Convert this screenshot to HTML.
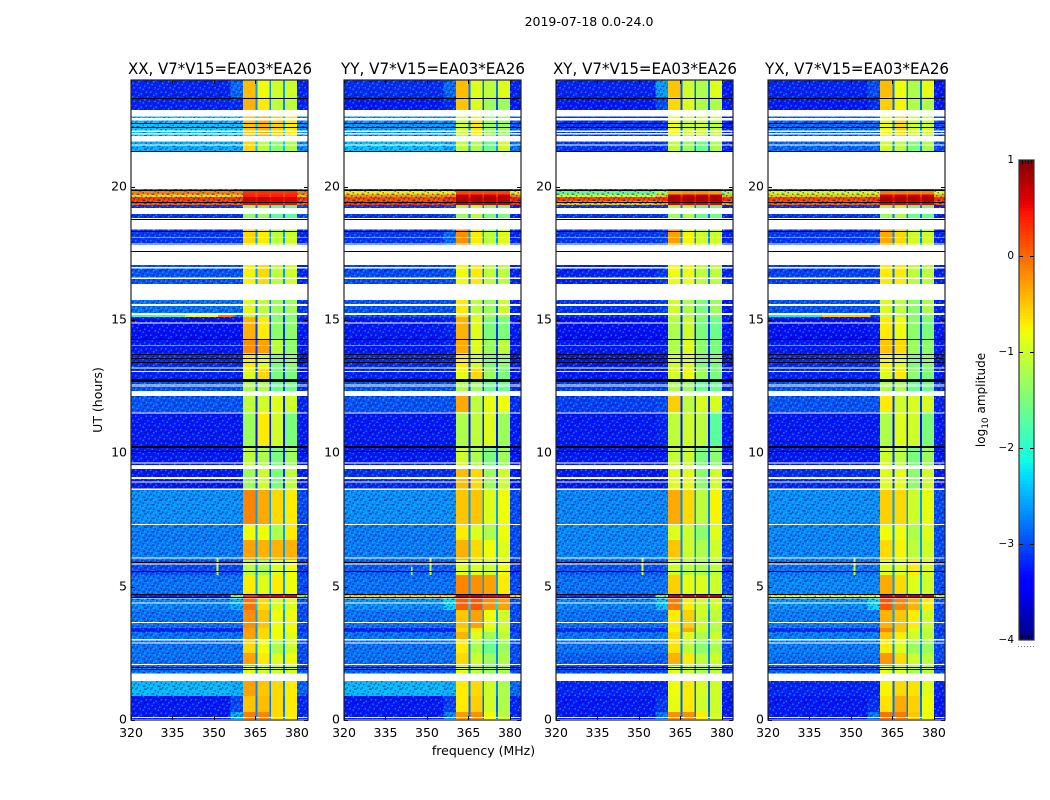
<!DOCTYPE html>
<html>
<head>
<meta charset="utf-8">
<title>2019-07-18 dynamic spectra</title>
<style>
html,body{margin:0;padding:0;background:#fff;width:1050px;height:800px;overflow:hidden}
svg{display:block}
text{font-family:"DejaVu Sans","Liberation Sans",sans-serif;fill:#000}
</style>
</head>
<body>
<svg id="figure" xmlns="http://www.w3.org/2000/svg" width="1050" height="800" viewBox="0 0 1050 800">
<defs>
<pattern id="speckle" patternUnits="userSpaceOnUse" width="15" height="13.5">
<g fill="#000078" opacity=".5">
<rect x="0" y="0" width="1.5" height="1.5"/><rect x="4.5" y="1.5" width="1.5" height="1.5"/><rect x="9" y="0" width="3" height="1.5"/>
<rect x="1.5" y="4.5" width="3" height="1.5"/><rect x="7.5" y="3" width="1.5" height="1.5"/><rect x="12" y="4.5" width="1.5" height="1.5"/>
<rect x="6" y="6" width="1.5" height="1.5"/><rect x="0" y="7.5" width="1.5" height="1.5"/><rect x="10.5" y="7.5" width="1.5" height="1.5"/>
<rect x="3" y="9" width="1.5" height="1.5"/><rect x="13.5" y="9" width="1.5" height="1.5"/><rect x="7.5" y="10.5" width="3" height="1.5"/>
<rect x="1.5" y="12" width="1.5" height="1.5"/><rect x="12" y="12" width="1.5" height="1.5"/>
</g>
<g fill="#40c8ff" opacity=".48">
<rect x="3" y="0" width="1.5" height="1.5"/><rect x="12" y="1.5" width="1.5" height="1.5"/><rect x="1.5" y="3" width="1.5" height="1.5"/>
<rect x="9" y="4.5" width="1.5" height="1.5"/><rect x="4.5" y="6" width="1.5" height="1.5"/><rect x="13.5" y="6" width="1.5" height="1.5"/>
<rect x="7.5" y="7.5" width="1.5" height="1.5"/><rect x="0" y="10.5" width="1.5" height="1.5"/><rect x="10.5" y="10.5" width="1.5" height="1.5"/>
<rect x="5.5" y="12" width="1.5" height="1.5"/>
</g>
</pattern>
</defs>
<text x="589" y="26" font-size="12.5" text-anchor="middle">2019-07-18 0.0-24.0</text>
<text transform="translate(102,400) rotate(-90)" font-size="12.5" text-anchor="middle">UT (hours)</text>
<text x="483.5" y="755" font-size="12.5" text-anchor="middle">frequency (MHz)</text>
<text transform="translate(985,400) rotate(-90)" font-size="12" text-anchor="middle">log<tspan font-size="9" dy="3">10</tspan><tspan dy="-3"> amplitude</tspan></text>
<g id="panels"></g>
<g id="colorbar"></g>
</svg>
<script>
// ---- Chart data (log10 amplitude) ----
const panelTitles = ["XX, V7*V15=EA03*EA26", "YY, V7*V15=EA03*EA26", "XY, V7*V15=EA03*EA26", "YX, V7*V15=EA03*EA26"];
const frequencyEdges = [320, 356, 360.5, 365, 365.7, 370, 370.7, 375, 375.7, 380, 384];
const frequencyTicks = [320, 335, 350, 365, 380];
const utTicks = [0, 5, 10, 15, 20];
const colorbarTicks = [1, 0, -1, -2, -3, -4];
const utEdges = [24,23.36,22.88,21.9,19.91,19.86,19.71,19.61,19.44,19.31,18.83,18.41,17.06,16.31,15.75,15.19,15.12,14.29,13.76,13.2,12.71,12.15,11.55,10.28,9.41,8.63,7.31,6.75,6,5.44,4.73,4.61,4.13,3.45,3.3,3,2.51,2.03,1.46,0.9,0.3,0];
// each row: off-band, pre-band, band1, band2, band3, band4, upper edge, notch between bands
const xxValues = [
[-3.2,-2.85,-.45,-.8,-1,-1,-3.2,-2.6],
[-3.2,-3.15,-.4,-.7,-1.1,-1.1,-3.2,-2.7],
[-2.4,-2.4,-.5,-.4,-.55,-.7,-2.7,-2.4],
[-2.5,-2.5,-.6,-1.1,-1.4,-1.2,-2.7,-2.4],
[.3,.3,.5,.5,.5,.5,.3,.4],
[-.1,-.1,.3,.3,.3,.3,-.1,.2],
[-.6,-.5,.4,.4,.4,.4,-.5,.1],
[.25,.3,.7,.7,.6,.6,.3,.5],
[.1,.1,.5,.5,.5,.5,.1,.3],
[-3.1,-3.1,-1.4,-1.3,-1.7,-1.7,-3,-2.8],
[-3.25,-3.25,-.6,-.8,-1,-.9,-3.25,-2.8],
[-3.1,-3.1,-.6,-.7,-1.1,-1,-3.2,-2.6],
[-2.95,-2.95,-.75,-.6,-1.1,-1,-3.2,-2.6],
[-3.1,-3.1,-.3,-.5,-.8,-.9,-3.2,-2.6],
[-2.8,-2.8,-.9,-1.1,-1.3,-1.3,-3.1,-2.8],
[-2.9,-2.8,-1,-1.2,-1.5,-1.5,-3,-2.9],
[-3.3,-3.3,-.4,-.7,-1.4,-1.4,-3.25,-3.1],
[-3.25,-3.25,-.2,-.3,-1.1,-1.4,-3.25,-3.1],
[-3.15,-3.15,-.7,-.9,-1.5,-1.4,-3.25,-3.1],
[-3.2,-3.2,-.9,-.6,-1.5,-1.5,-3.25,-3.1],
[-2.95,-2.95,-1.2,-1.2,-1.6,-1.6,-3.15,-3],
[-2.95,-2.95,-1.1,-1,-.9,-1,-3.2,-3.2],
[-3.25,-3.25,-1.3,-.7,-1,-1.5,-3.25,-3.3],
[-3.25,-3.25,-1.1,-1.2,-1.5,-1.3,-3.25,-3.2],
[-3.25,-3.25,-1.3,-1,-1.5,-1.1,-3.25,-3.1],
[-2.65,-2.65,-.15,-.35,-.6,-.7,-3,-2.6],
[-2.75,-2.75,-.8,-.8,-1.2,-.7,-3,-2.6],
[-2.75,-2.75,-.3,-.4,-.4,-.4,-3,-2.6],
[-3,-3,-1.1,-1.2,-.9,-.8,-3.1,-2.7],
[-2.8,-2.8,-.7,-.9,-.7,-.8,-3,-2.6],
[-3.2,-1.5,.3,.6,.6,.6,-1.6,.3],
[-2.7,-2.5,-.05,-.6,-.9,-.9,-3,-2.4],
[-2.8,-2.8,-.2,-.5,-.8,-.8,-3,-2.6],
[-3.2,-3.2,-.3,-.6,-.8,-.8,-3.1,-2.7],
[-2.8,-2.8,-.3,-.6,-.8,-.9,-3,-2.6],
[-2.8,-2.8,-.6,-.8,-1.2,-1,-3,-2.6],
[-2.8,-2.8,-.3,-.7,-.9,-.8,-3,-2.7],
[-2.8,-2.8,-.9,-1,-1,-1,-2.9,-2.8],
[-2.45,-2.5,-.3,-.5,-.6,-.7,-2.9,-2.7],
[-3.25,-3,-.5,-.45,-.6,-.7,-3.2,-2.8],
[-3.25,-2.5,-.1,-.15,-.6,-.7,-3.2,-2.7]
];
const yyValues = [
[-3.15,-2.85,-.45,-.9,-1.1,-.9,-3.2,-2.8],
[-3.25,-3.15,-.5,-.9,-1.3,-1.3,-3.25,-3],
[-2.6,-2.6,-1,-.7,-1.3,-1.3,-2.9,-2.7],
[-2.4,-2.5,-1.1,-1.2,-1.6,-1,-2.8,-2.6],
[.7,.7,.8,.8,.8,.8,.7,.7],
[-.7,-.7,.2,.2,.2,.2,-.7,.1],
[-.2,-.1,.7,.7,.7,.7,-.1,.3],
[.15,.35,.8,.8,.8,.8,.4,.5],
[.3,.3,.7,.7,.7,.7,.3,.5],
[-3.1,-3,-1.3,-1.1,-1.5,-1.5,-3.2,-2.8],
[-3.25,-3.25,-.3,-.5,-1,-.9,-3.25,-2.8],
[-3.1,-2.85,-.2,-.7,-1.1,-.9,-3.2,-2.6],
[-3,-2.95,-.8,-.7,-1.1,-1.1,-3.2,-2.8],
[-3.1,-2.9,-.65,-.9,-1.1,-1.1,-3.25,-2.8],
[-2.95,-2.95,-.7,-1.1,-1.3,-1,-3.2,-2.9],
[-2.95,-2.95,-.7,-1,-1.2,-1.2,-3.2,-2.9],
[-3.25,-3.2,-.4,-.9,-1.5,-1.5,-3.25,-3.1],
[-3.25,-3.2,-.35,-.9,-1.3,-1.1,-3.25,-3.1],
[-3.15,-3.15,-.7,-1,-1.5,-1.4,-3.25,-3.1],
[-3.2,-3.2,-.8,-.6,-1.3,-1.5,-3.25,-3.1],
[-2.95,-2.95,-1.2,-1.3,-1.6,-1.6,-3.15,-3],
[-2.95,-2.95,-.35,-1.1,-.85,-.8,-3.15,-3.1],
[-3.25,-3.25,-1.2,-1.1,-.9,-1.3,-3.25,-3.3],
[-3.25,-3.25,-1,-1.2,-1.5,-1.3,-3.25,-3.1],
[-3.15,-3.15,-.45,-.6,-1.3,-1,-3.25,-3.1],
[-2.65,-2.65,-.5,-.5,-.9,-.8,-3,-2.6],
[-2.75,-2.75,-.7,-.9,-1.2,-.8,-3,-2.6],
[-2.75,-2.75,-.4,-.6,-.8,-.9,-3,-2.6],
[-2.9,-2.9,-.9,-.9,-1,-.8,-3.1,-2.7],
[-2.8,-2.8,-.15,-.2,-.3,-.7,-3,-2.6],
[-.6,-.6,.75,.75,.6,.6,-.6,.5],
[-2.65,-2.3,.05,.1,-.2,-.3,-3,-2.3],
[-2.8,-2.8,-.5,-.3,-.8,-1,-3,-2.6],
[-3.2,-3.2,-.6,-.7,-.9,-1,-3.1,-2.7],
[-2.8,-2.8,-.4,-.9,-1.3,-1.1,-3,-2.6],
[-2.8,-2.8,-.7,-1.2,-1.6,-1.3,-3,-2.7],
[-2.8,-2.8,-.6,-1,-1.3,-1.2,-3,-2.7],
[-2.9,-2.9,-.9,-1.1,-1.3,-1.2,-3,-2.8],
[-2.45,-2.5,-.7,-.6,-1,-1.2,-2.85,-2.7],
[-3.25,-3.05,-.7,-.55,-1,-1.2,-3.2,-2.9],
[-3.25,-2.7,-.25,-.2,-.8,-1.1,-3.2,-2.8]
];
const xyValues = [
[-3.2,-2.6,-.5,-1,-1.2,-.9,-3.25,-2.9],
[-3.25,-3,-.6,-.9,-1.2,-1.2,-3.25,-3],
[-3.1,-3.1,-.8,-1,-1,-1.1,-3.2,-2.9],
[-3.1,-3.1,-1.1,-1.3,-1.6,-1.2,-3.2,-2.8],
[.5,.5,.8,.8,.8,.8,.6,.6],
[-1.7,-1.2,-.3,-.2,-.2,-.3,-1.3,-.3],
[-.8,-.5,.75,.75,.75,.75,-.4,.3],
[.2,.3,.8,.8,.8,.8,.3,.5],
[-.5,-.3,.6,.6,.6,.6,-.3,.3],
[-3.1,-3.1,-1.3,-1.2,-1.6,-1.6,-3.2,-2.8],
[-3.25,-3.25,-.6,-.7,-.9,-1,-3.25,-2.8],
[-3.1,-3.05,-.3,-.75,-1,-1,-3.2,-2.7],
[-3.2,-3.1,-.8,-.8,-1.1,-1.1,-3.2,-2.8],
[-3.2,-3,-.9,-.9,-1.2,-1.2,-3.25,-2.9],
[-3.1,-3.05,-1,-1.2,-1.5,-1.3,-3.25,-3],
[-3.1,-3.1,-1,-1.2,-1.4,-1.4,-3.25,-3],
[-3.3,-3.3,-1.2,-1,-1.5,-1.6,-3.25,-3.2],
[-3.25,-3.25,-1.2,-.9,-1.4,-1.5,-3.25,-3.2],
[-3.25,-3.25,-1,-.9,-1.5,-1.5,-3.25,-3.2],
[-3.25,-3.25,-.95,-.8,-1.3,-1.5,-3.25,-3.2],
[-3.05,-3.05,-1.2,-1.3,-1.6,-1.6,-3.2,-3.1],
[-3.05,-3,-.55,-1.1,-.95,-.95,-3.15,-3.2],
[-3.25,-3.2,-1.1,-1,-1.1,-1.7,-3.25,-3.3],
[-3.25,-3.25,-1.05,-1,-1.5,-1.4,-3.25,-3.2],
[-3.25,-3.25,-.9,-.85,-1.4,-1,-3.25,-3.1],
[-2.7,-2.7,-.35,-.6,-1.1,-.75,-3,-2.7],
[-2.7,-2.7,-.9,-1,-1.4,-.9,-3,-2.7],
[-2.7,-2.7,-.5,-1,-1.2,-1,-3,-2.7],
[-2.95,-2.95,-1,-1.1,-1.2,-1.1,-3.1,-2.7],
[-2.8,-2.8,-.55,-.85,-.9,-1,-3,-2.7],
[-3.1,-1.7,.7,.75,.75,.75,-1.7,.1],
[-2.7,-2.4,-.1,-.7,-1,-1,-3,-2.5],
[-2.8,-2.8,-.7,-.55,-1,-1.1,-3,-2.7],
[-3.15,-3.15,-.75,-.35,-1,-1.2,-3.1,-2.7],
[-2.8,-2.8,-.6,-.9,-1.2,-1,-3,-2.7],
[-2.8,-2.8,-.65,-1.1,-1.4,-1.2,-3,-2.7],
[-2.9,-2.9,-.4,-.7,-1.1,-1,-3,-2.7],
[-3,-3,-.9,-1,-1.2,-1.1,-3.1,-2.8],
[-3.2,-3.2,-.8,-.7,-.95,-1,-3.2,-2.9],
[-3.25,-3.1,-.85,-.7,-1,-1,-3.25,-2.9],
[-3.25,-2.8,-.2,-.2,-.7,-1,-3.25,-2.8]
];
const yxValues = [
[-3.2,-3,-.45,-.8,-1.2,-.85,-3.25,-2.8],
[-3.25,-3.15,-.55,-.75,-1.2,-1.2,-3.25,-2.9],
[-2.85,-2.85,-.8,-.6,-1,-1,-3,-2.7],
[-2.85,-2.85,-1,-1.1,-1.5,-1.2,-3,-2.7],
[.5,.5,.8,.8,.8,.8,.6,.6],
[-1,-.9,-.1,-.1,-.1,-.1,-.9,-.2],
[-.5,-.4,.7,.7,.7,.7,-.3,.3],
[.2,.3,.8,.8,.8,.8,.3,.5],
[.1,.1,.6,.6,.6,.6,.1,.3],
[-3.1,-3.05,-1.3,-1.2,-1.6,-1.6,-3.2,-2.8],
[-3.25,-3.25,-.5,-.7,-.9,-.9,-3.25,-2.8],
[-3.1,-3.05,-.35,-.6,-1,-1,-3.2,-2.7],
[-3.05,-3.05,-.7,-.7,-1.1,-1.1,-3.2,-2.8],
[-3.1,-3,-.75,-.85,-1.1,-1.1,-3.25,-2.8],
[-2.95,-2.95,-.95,-1.1,-1.4,-1.2,-3.2,-2.9],
[-2.95,-2.95,-1,-1.1,-1.4,-1.4,-3.2,-2.9],
[-3.3,-3.25,-.7,-.8,-1.4,-1.5,-3.25,-3.1],
[-3.25,-3.25,-.5,-.6,-1.3,-1.4,-3.25,-3.1],
[-3.15,-3.15,-.75,-.9,-1.5,-1.4,-3.25,-3.1],
[-3.2,-3.2,-.9,-.7,-1.4,-1.5,-3.25,-3.1],
[-2.95,-2.95,-1.2,-1.2,-1.6,-1.6,-3.15,-3],
[-2.95,-2.95,-.7,-1,-.95,-.95,-3.2,-3.1],
[-3.25,-3.25,-1.2,-.9,-1,-1.5,-3.25,-3.3],
[-3.25,-3.25,-1,-1.1,-1.5,-1.3,-3.25,-3.1],
[-3.15,-3.15,-.9,-.85,-1.4,-1,-3.25,-3.1],
[-2.65,-2.65,-.55,-.6,-1,-.85,-3,-2.6],
[-2.7,-2.7,-.8,-.8,-1.2,-.9,-3,-2.6],
[-2.7,-2.7,-.6,-.75,-1.1,-1,-3,-2.6],
[-2.8,-2.8,-.9,-.9,-.7,-.9,-3,-2.7],
[-2.7,-2.7,-.35,-.6,-.9,-1,-3,-2.6],
[-.85,-.85,.75,.75,.75,.75,-.9,.2],
[-2.65,-2.3,.1,-.15,-.4,-.7,-3,-2.4],
[-2.75,-2.75,-.4,-.5,-.7,-1,-3,-2.6],
[-3.15,-3.15,-.15,-.5,-.9,-1.1,-3.1,-2.7],
[-2.75,-2.75,-.5,-.7,-1,-1.1,-3,-2.6],
[-2.75,-2.75,-.7,-.9,-1.3,-1.3,-3,-2.7],
[-2.8,-2.8,-.25,-.6,-1,-1.1,-3,-2.7],
[-2.9,-2.9,-.85,-.9,-1.2,-1.1,-3,-2.8],
[-3.2,-3.2,-.75,-.6,-.65,-.9,-3.2,-2.9],
[-3.25,-3.15,-.65,-.35,-.55,-.8,-3.25,-2.8],
[-3.25,-2.8,-.05,-.1,-.5,-.8,-3.25,-2.7]
];
// off-band interference marks, one entry per mark across these arrays
const interferenceFreqFrom = [320, 339.5, 351.4, 320, 339.5, 351, 351, 344.2, 351, 351];
const interferenceFreqTo   = [339.5, 351.4, 357, 339.5, 357, 351.7, 351.7, 344.8, 351.7, 351.7];
const interferenceUtFrom   = [15.12, 15.12, 15.12, 15.12, 15.12, 5.44, 5.44, 5.44, 5.44, 5.44];
const interferenceUtTo     = [15.19, 15.19, 15.19, 15.19, 15.19, 6.07, 6.07, 5.74, 6.07, 6.07];
const interferenceValue    = [-1.9, -.8, -.1, -2.2, -.5, -1, -1, -1.1, -1, -1];
const interferencePanel    = [0, 0, 0, 3, 3, 0, 1, 1, 2, 3];
// flagged (no data) UT intervals, upper bound then lower bound
const flaggedUtUpper = [22.875,22.575,22.099,22.0125,21.9,21.59,21.33,19.2,18.825,18.75,18.1,17.875,17.81,16.99,16.6,16.35,15.6,15.26,14.91,14.05,13.226,13.09,12.59,12.51,12.34,11.54,9.65,9.57,9.12,8.94,8.69,7.35,6.1,5.875,4.61,4.4,3.675,3.03,2.91,2.1,1.75,0.11,0.03];
const flaggedUtLower = [22.624,22.474,22.05,21.956,21.7,21.55,19.91,18.975,18.79,18.4,18.075,17.83,17.06,16.93,16.53,15.75,15.525,15.19,14.87,14.025,13.19,13.05,12.55,12.48,12.15,11.5,9.61,9.41,9.04,8.9,8.625,7.31,6.06,5.84,4.56,4.36,3.64,2.99,2.875,2.06,1.46,0.075,0];
// bad integrations that show as black lines
const blackLineUt = [23.34,22.37,22.22,21.33,19.89,19.425,18.78,18.32,17.58,14.3,13.74,13.59,13.44,12.79,12.75,12.71,10.275,10.24,10.07,5.925,5.58,4.73,4.62,2,1.92];

const panelMatrices = [xxValues, yyValues, xyValues, yxValues];

// ---- Layout ----
const SVGNS = "http://www.w3.org/2000/svg";
const panelLefts = [131, 344, 556, 768];
const panelWidth = 177, panelTop = 80, panelHeight = 640;
const freqMin = 320, freqMax = 384, utMin = 0, utMax = 24, ampMin = -4, ampMax = 1;
const columnOrder = [0, 1, 2, 7, 3, 7, 4, 7, 5, 6];

function xScale(left, f) { return left + (f - freqMin) / (freqMax - freqMin) * panelWidth; }
function yScale(h) { return panelTop + panelHeight - (h - utMin) / (utMax - utMin) * panelHeight; }
function interp(pts, t) {
  for (let i = 1; i < pts.length; i++) {
    if (t <= pts[i][0]) {
      const a = pts[i - 1], b = pts[i];
      return a[1] + (b[1] - a[1]) * (t - a[0]) / (b[0] - a[0]);
    }
  }
  return pts[pts.length - 1][1];
}
function jet(v) {
  const t = Math.max(0, Math.min(1, (v - ampMin) / (ampMax - ampMin)));
  const r = interp([[0,0],[.35,0],[.66,1],[.89,1],[1,.5]], t);
  const g = interp([[0,0],[.125,0],[.375,1],[.64,1],[.91,0],[1,0]], t);
  const b = interp([[0,.5],[.11,1],[.34,1],[.65,0],[1,0]], t);
  return "rgb(" + Math.round(r * 255) + "," + Math.round(g * 255) + "," + Math.round(b * 255) + ")";
}
function rect(parent, x, y, w, h, fill) {
  const el = document.createElementNS(SVGNS, "rect");
  el.setAttribute("x", x);
  el.setAttribute("y", y);
  el.setAttribute("width", w);
  el.setAttribute("height", h);
  el.setAttribute("fill", fill);
  el.setAttribute("shape-rendering", "crispEdges");
  parent.appendChild(el);
  return el;
}
function group(parent, name) {
  const g = document.createElementNS(SVGNS, "g");
  
  
  parent.appendChild(g);
  return g;
}
function label(parent, x, y, str, size, anchor) {
  const t = document.createElementNS(SVGNS, "text");
  t.setAttribute("x", x);
  t.setAttribute("y", y);
  t.setAttribute("font-size", size);
  t.setAttribute("text-anchor", anchor);
  t.textContent = str;
  parent.appendChild(t);
  return t;
}

const panelsRoot = document.getElementById("panels");
panelLefts.forEach(function (left, p) {
  const g = group(panelsRoot, "panel-" + panelTitles[p].slice(0, 2).toLowerCase());
  const matrix = panelMatrices[p];

  // heatmap cells
  matrix.forEach(function (row, r) {
    const y0 = yScale(utEdges[r]), y1 = yScale(utEdges[r + 1]);
    columnOrder.forEach(function (col, c) {
      const x0 = xScale(left, frequencyEdges[c]), x1 = xScale(left, frequencyEdges[c + 1]);
      const cell = rect(g, x0, y0, x1 - x0, y1 - y0, jet(row[col]));
      
      
    });
  });

  // noise texture over the off-band regions
  const n1 = rect(g, left, panelTop, xScale(left, frequencyEdges[2]) - left, panelHeight, "url(#speckle)");
  
  
  const n2 = rect(g, xScale(left, frequencyEdges[9]), panelTop, left + panelWidth - xScale(left, frequencyEdges[9]), panelHeight, "url(#speckle)");
  
  

  // interference marks
  interferencePanel.forEach(function (ip, i) {
    if (ip !== p) return;
    const x0 = xScale(left, interferenceFreqFrom[i]), x1 = xScale(left, interferenceFreqTo[i]);
    const y0 = yScale(interferenceUtTo[i]), y1 = yScale(interferenceUtFrom[i]);
    const m = rect(g, x0, y0, x1 - x0, y1 - y0, jet(interferenceValue[i]));
    
    
  });

  // flagged rows
  flaggedUtUpper.forEach(function (u, i) {
    const y0 = yScale(u), y1 = yScale(flaggedUtLower[i]);
    const w = rect(g, left, y0, panelWidth, y1 - y0, "#fff");
    
    
  });

  // black lines
  blackLineUt.forEach(function (h) {
    const b = rect(g, left, Math.round(yScale(h)), panelWidth, 1, "#000");
    
    
  });

  // ticks and labels
  const ticks = group(g, "axis-ticks");
  frequencyTicks.forEach(function (f) {
    const x = Math.round(xScale(left, f));
    rect(ticks, x, panelTop + panelHeight - 4, 1, 4, "#000");
    rect(ticks, x, panelTop, 1, 4, "#000");
    const t = label(ticks, xScale(left, f), 737, String(f), 12.5, "middle");
    
    
  });
  utTicks.forEach(function (h) {
    const y = Math.round(yScale(h));
    rect(ticks, left, y, 4, 1, "#000");
    rect(ticks, left + panelWidth - 4, y, 4, 1, "#000");
    const t = label(ticks, left - 4, y + 3.5, String(h), 12.5, "end");
    
    
  });

  // frame
  const frame = document.createElementNS(SVGNS, "rect");
  
  
  frame.setAttribute("x", left);
  frame.setAttribute("y", panelTop);
  frame.setAttribute("width", panelWidth);
  frame.setAttribute("height", panelHeight);
  frame.setAttribute("fill", "none");
  frame.setAttribute("stroke", "#222");
  frame.setAttribute("stroke-width", "1.2");
  g.appendChild(frame);

  // title
  const title = label(g, left + panelWidth / 2 + 0.5, 74, panelTitles[p], 16, "middle");
  
  
  title.setAttribute("textLength", "184");
  title.setAttribute("lengthAdjust", "spacingAndGlyphs");
});

// ---- Colorbar ----
const cb = document.getElementById("colorbar");
const cbLeft = 1019, cbWidth = 15, cbTop = 160, cbHeight = 480;
function cbY(v) { return cbTop + cbHeight - (v - ampMin) / (ampMax - ampMin) * cbHeight; }
for (let i = 0; i < 160; i++) {
  const v0 = ampMax - (ampMax - ampMin) * i / 160;
  const v1 = ampMax - (ampMax - ampMin) * (i + 1) / 160;
  const s = rect(cb, cbLeft, cbY(v0), cbWidth, cbY(v1) - cbY(v0) + 0.5, jet((v0 + v1) / 2));
  
  
}
colorbarTicks.forEach(function (v) {
  const y = Math.min(Math.round(cbY(v)), cbTop + cbHeight - 1);
  rect(cb, cbLeft, y, 4, 1, "#000");
  rect(cb, cbLeft + cbWidth - 4, y, 4, 1, "#000");
  const t = label(cb, 1014, cbY(v) + 3, String(v).replace("-", "\u2212"), 10.5, "end");
  
  
});
for (let i = 1; i < 5; i++) {
  const x = cbLeft + Math.round(i * cbWidth / 5);
  rect(cb, x, cbTop, 1, 4, "#000");
  rect(cb, x, cbTop + cbHeight - 4, 1, 4, "#000");
}
for (let i = 0; i < 6; i++) {
  const d = rect(cb, cbLeft - 1 + i * 3, 646, 1, 1, "#777");
  
  
}
const cbFrame = document.createElementNS(SVGNS, "rect");


cbFrame.setAttribute("x", cbLeft);
cbFrame.setAttribute("y", cbTop);
cbFrame.setAttribute("width", cbWidth);
cbFrame.setAttribute("height", cbHeight);
cbFrame.setAttribute("fill", "none");
cbFrame.setAttribute("stroke", "#333");
cbFrame.setAttribute("stroke-width", "1.2");
cb.appendChild(cbFrame);
</script>
</body>
</html>
